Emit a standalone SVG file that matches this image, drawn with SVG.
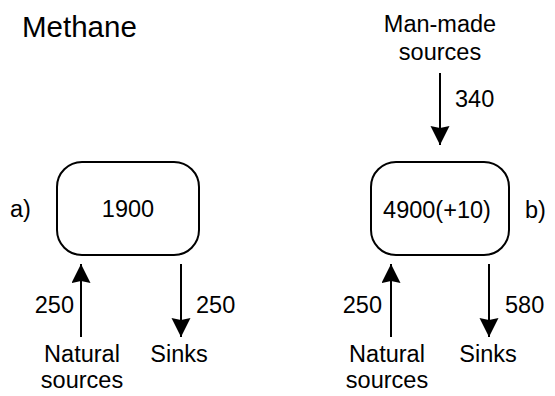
<svg xmlns="http://www.w3.org/2000/svg" width="555" height="396" viewBox="0 0 555 396">
  <style>
    text { font-family: "Liberation Sans", Arial, Helvetica, sans-serif; fill: #000; }
    .lbl { font-size: 23.5px; }
    .num { font-size: 23.5px; }
    .title { font-size: 29.5px; }
    .mid { text-anchor: middle; }
    .end { text-anchor: end; }
    .box { fill: #fff; stroke: #000; stroke-width: 2; }
    .flow { stroke: #000; stroke-width: 2; fill: none; marker-end: url(#head); }
  </style>
  <defs>
    <marker id="head" markerUnits="userSpaceOnUse" markerWidth="22" markerHeight="22" refX="19" refY="9.5" orient="auto">
      <path d="M0,0 L19,9.5 L0,19 L2,9.5 Z" fill="#000"/>
    </marker>
  </defs>

  <text class="title" x="22" y="37">Methane</text>

  <!-- reservoir a) pre-industrial -->
  <g id="reservoir-a">
    <rect class="box" x="57" y="162" width="142" height="93" rx="25" ry="25"/>
    <text class="num mid" x="128" y="217">1900</text>
    <text class="lbl" x="10" y="217">a)</text>
  </g>

  <!-- reservoir b) present day -->
  <g id="reservoir-b">
    <rect class="box" x="371" y="162" width="138" height="93" rx="25" ry="25"/>
    <text class="num mid" x="437" y="218">4900(+10)</text>
    <text class="lbl" x="525" y="218">b)</text>
  </g>

  <g id="natural-a">
    <text class="lbl mid" x="82" y="362">Natural</text>
    <text class="lbl mid" x="82" y="388">sources</text>
  </g>
  <g id="sinks-a">
    <text class="lbl mid" x="179" y="362">Sinks</text>
  </g>
  <g id="natural-b">
    <text class="lbl mid" x="387" y="362">Natural</text>
    <text class="lbl mid" x="387" y="388">sources</text>
  </g>
  <g id="sinks-b">
    <text class="lbl mid" x="488" y="362">Sinks</text>
  </g>
  <g id="manmade-b">
    <text class="lbl mid" x="440" y="32">Man-made</text>
    <text class="lbl mid" x="440" y="60">sources</text>
  </g>

  <!-- fluxes -->
  <g id="connectors">
    <line class="flow" x1="81" y1="337" x2="81" y2="264"/>
    <line class="flow" x1="181" y1="264" x2="181" y2="337"/>
    <line class="flow" x1="391" y1="337" x2="391" y2="264"/>
    <line class="flow" x1="489" y1="264" x2="489" y2="337"/>
    <line class="flow" x1="440" y1="73" x2="440" y2="145"/>
    <text class="num end" x="74" y="313">250</text>
    <text class="num" x="196" y="313">250</text>
    <text class="num end" x="382" y="313">250</text>
    <text class="num" x="505" y="313">580</text>
    <text class="num" x="455" y="107">340</text>
  </g>
</svg>
